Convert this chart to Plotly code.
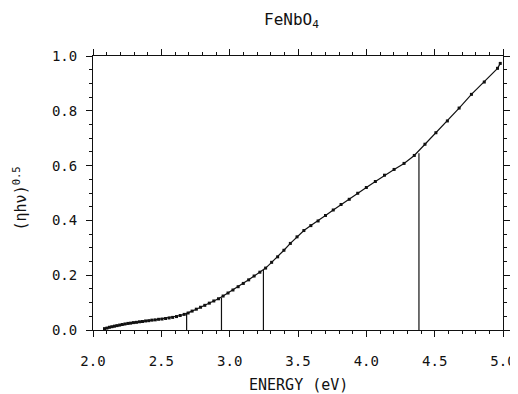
import plotly.graph_objects as go

# Photon energy (eV) and (eta h nu)^0.5
energy = [2.084, 2.102, 2.120, 2.138, 2.157, 2.175, 2.195, 2.214, 2.234, 2.255,
          2.275, 2.296, 2.318, 2.340, 2.362, 2.385, 2.408, 2.431, 2.455, 2.480,
          2.505, 2.531, 2.557, 2.583, 2.611, 2.638, 2.667, 2.696, 2.725, 2.756,
          2.787, 2.818, 2.851, 2.884, 2.918, 2.952, 2.988, 3.024, 3.062, 3.100,
          3.139, 3.179, 3.221, 3.263, 3.307, 3.351, 3.397, 3.444, 3.493, 3.543,
          3.594, 3.647, 3.701, 3.758, 3.815, 3.875, 3.937, 4.000, 4.066, 4.133,
          4.203, 4.276, 4.351, 4.429, 4.509, 4.593, 4.679, 4.769, 4.863, 4.960,
          4.980]
signal = [0.005, 0.007, 0.010, 0.012, 0.014, 0.016, 0.018, 0.020, 0.022, 0.024,
          0.025, 0.027, 0.028, 0.030, 0.031, 0.033, 0.034, 0.036, 0.037, 0.039,
          0.040, 0.042, 0.044, 0.046, 0.049, 0.053, 0.057, 0.062, 0.069, 0.076,
          0.083, 0.090, 0.098, 0.106, 0.114, 0.124, 0.135, 0.146, 0.158, 0.170,
          0.183, 0.197, 0.211, 0.226, 0.247, 0.267, 0.291, 0.316, 0.340, 0.363,
          0.381, 0.398, 0.418, 0.438, 0.458, 0.477, 0.499, 0.520, 0.542, 0.565,
          0.586, 0.608, 0.637, 0.678, 0.720, 0.763, 0.810, 0.860, 0.905, 0.955,
          0.973]

# Vertical marker lines (energy, height at curve)
edge_x = [2.685, 2.940, 3.247, 4.385]
edge_y = [0.061, 0.118, 0.219, 0.645]

x_ticks = [2.0, 2.5, 3.0, 3.5, 4.0, 4.5, 5.0]
y_ticks = [0.0, 0.2, 0.4, 0.6, 0.8, 1.0]

FONT = "DejaVu Sans Mono"

fig = go.Figure()

vx, vy = [], []
for ex, ey in zip(edge_x, edge_y):
    vx += [ex, ex, None]
    vy += [0, ey, None]
fig.add_trace(go.Scatter(x=vx, y=vy, mode="lines",
                         line=dict(color="#111111", width=1.2),
                         showlegend=False, hoverinfo="skip"))

fig.add_trace(go.Scatter(x=energy, y=signal, mode="lines+markers",
                         line=dict(color="#111111", width=1.2),
                         marker=dict(color="#111111", size=3, symbol="square"),
                         showlegend=False))

# page body has an 8px margin, so the figure is shifted by that offset
fig.update_layout(
    width=510, height=386,
    margin=dict(l=85, r=15, t=48, b=64, autoexpand=False),
    paper_bgcolor="white", plot_bgcolor="white",
    font=dict(family=FONT, color="#111111", size=14),
    showlegend=False,
    annotations=[
        dict(text="FeNbO<sub>4</sub>", xref="paper", yref="paper",
             x=0.485, y=1.0, yshift=36, xanchor="center", yanchor="middle",
             showarrow=False, font=dict(family=FONT, size=16)),
        dict(text="ENERGY (eV)", xref="paper", yref="paper",
             x=0.5, y=0, yshift=-55, xanchor="center", yanchor="middle",
             showarrow=False, font=dict(family=FONT, size=15)),
        dict(text="(\u03b7h\u03bd)<sup>0.5</sup>", xref="paper", yref="paper",
             x=0, xshift=-73, y=0.48, xanchor="center", yanchor="middle",
             textangle=-90, showarrow=False, font=dict(family=FONT, size=15)),
    ],
)

fig.update_xaxes(
    range=[2.0, 5.0], tickvals=x_ticks, automargin=False,
    ticktext=[f"{v:.1f}" for v in x_ticks],
    ticks="outside", ticklen=6, tickwidth=1, tickcolor="#111111",
    showline=True, linecolor="#111111", linewidth=1, mirror="ticks",
    showgrid=False, zeroline=False, ticklabelstandoff=12,
    minor=dict(dtick=0.1, tick0=2.0, ticks="outside", ticklen=3,
               tickcolor="#111111", showgrid=False),
)
fig.update_yaxes(
    range=[0.0, 1.0], tickvals=y_ticks, automargin=False,
    ticktext=[f"{v:.1f}" for v in y_ticks],
    ticks="outside", ticklen=6, tickwidth=1, tickcolor="#111111",
    showline=True, linecolor="#111111", linewidth=1, mirror="ticks",
    showgrid=False, zeroline=False, ticklabelstandoff=6,
    minor=dict(dtick=0.05, tick0=0.0, ticks="outside", ticklen=3,
               tickcolor="#111111", showgrid=False),
)

fig.write_html("out.html")
